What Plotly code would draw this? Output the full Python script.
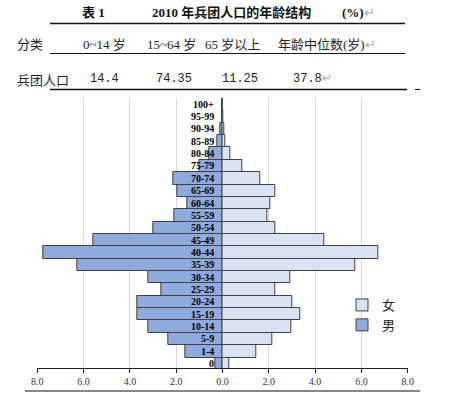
import plotly.graph_objects as go

W, H = 449, 398

ages = ["0", "1-4", "5-9", "10-14", "15-19", "20-24", "25-29", "30-34", "35-39",
        "40-44", "45-49", "50-54", "55-59", "60-64", "65-69", "70-74", "75-79",
        "80-84", "85-89", "90-94", "95-99", "100+"]
male = [0.32, 1.60, 2.35, 3.20, 3.70, 3.66, 2.63, 3.20, 6.26, 7.76, 5.60, 2.98,
        2.09, 1.54, 1.94, 2.12, 0.99, 0.56, 0.23, 0.09, 0.02, 0.01]
female = [0.30, 1.47, 2.17, 2.97, 3.37, 3.00, 2.28, 2.94, 5.72, 6.75, 4.41, 2.29,
          1.94, 2.06, 2.28, 1.63, 0.86, 0.35, 0.14, 0.07, 0.02, 0.01]
tick_vals = [-8, -6, -4, -2, 0, 2, 4, 6, 8]
tick_text = ["8.0", "6.0", "4.0", "2.0", "0.0", "2.0", "4.0", "6.0", "8.0"]

table_title = ["表 1", "2010 年兵团人口的年龄结构", "(%)"]
table_head = ["分类", "0~14 岁", "15~64 岁", "65 岁以上", "年龄中位数(岁)"]
table_vals = ["兵团人口", "14.4", "74.35", "11.25", "37.8"]

def px(x):
    return x / W

def py(y):
    return 1 - y / H

fig = go.Figure()
fig.add_trace(go.Bar(
    y=ages, x=female, orientation="h", name="女",
    marker=dict(color="#dae3f3", line=dict(color="#404040", width=1)),
))
fig.add_trace(go.Bar(
    y=ages, x=[-v for v in male], orientation="h", name="男",
    marker=dict(color="#8faadc", line=dict(color="#404040", width=1)),
))

ann = []
for a in ages:
    ann.append(dict(x=0, y=a, xref="x", yref="y", text="<b>%s</b>" % a,
                    showarrow=False, xanchor="right", yanchor="middle", xshift=-7,
                    font=dict(family="Liberation Serif", size=10, color="#000")))

serif_cjk = "Liberation Serif, Noto Sans CJK SC"
gray_mark = "<span style='color:#aaaaaa'>↵</span>"

# title row
title_x = [80, 150, 340]
for t, x in zip(table_title, title_x):
    suffix = gray_mark if t == "(%)" else ""
    ann.append(dict(x=px(x), y=py(12), xref="paper", yref="paper", text="<b>%s</b>%s" % (t, suffix),
                    showarrow=False, xanchor="left", yanchor="middle",
                    font=dict(family=serif_cjk, size=13, color="#111")))
# header row
head_x = [15, 81, 145, 203, 276]
for i, (t, x) in enumerate(zip(table_head, head_x)):
    suffix = gray_mark if i == len(table_head) - 1 else ""
    ann.append(dict(x=px(x), y=py(45), xref="paper", yref="paper", text=t + suffix,
                    showarrow=False, xanchor="left", yanchor="middle",
                    font=dict(family=serif_cjk, size=13, color="#222")))
# value row
val_x = [15, 88, 154, 220, 291]
for i, (t, x) in enumerate(zip(table_vals, val_x)):
    suffix = gray_mark if i == len(table_vals) - 1 else ""
    fam = "Noto Sans CJK SC" if i == 0 else "Liberation Mono, Noto Sans CJK SC"
    ann.append(dict(x=px(x), y=py(79), xref="paper", yref="paper", text=t + suffix,
                    showarrow=False, xanchor="left", yanchor="middle",
                    font=dict(family=fam, size=13 if i == 0 else 12, color="#222")))

shapes = [
    dict(type="line", xref="paper", yref="paper", x0=px(50), x1=px(405), y0=py(23.5), y1=py(23.5),
         line=dict(color="#111", width=1.6)),
    dict(type="line", xref="paper", yref="paper", x0=px(50), x1=px(405), y0=py(53.5), y1=py(53.5),
         line=dict(color="#111", width=1)),
    dict(type="line", xref="paper", yref="paper", x0=px(50), x1=px(407), y0=py(89.5), y1=py(89.5),
         line=dict(color="#111", width=1.6)),
    dict(type="line", xref="paper", yref="paper", x0=px(415), x1=px(420), y0=py(89.5), y1=py(89.5),
         line=dict(color="#111", width=1)),
    dict(type="line", xref="paper", yref="paper", x0=px(25), x1=px(420), y0=py(391), y1=py(391),
         line=dict(color="#111", width=1.2)),
]

fig.update_layout(
    width=W, height=H,
    margin=dict(l=0, r=0, t=0, b=0, autoexpand=False),
    paper_bgcolor="white", plot_bgcolor="white",
    barmode="overlay", bargap=0,
    showlegend=True,
    legend=dict(x=px(342), y=py(290), xanchor="left", yanchor="top",
                bgcolor="rgba(0,0,0,0)", traceorder="normal", tracegroupgap=0,
                itemwidth=30,
                font=dict(family=serif_cjk, size=13, color="#222")),
    xaxis=dict(domain=[px(37.3), px(407.7)], range=[-8, 8],
               tickvals=tick_vals, ticktext=tick_text,
               showgrid=True, gridcolor="#d9d9d9", gridwidth=1,
               zeroline=True, zerolinecolor="#a0a0a0", zerolinewidth=1,
               showline=True, linecolor="#222", linewidth=1,
               ticks="outside", ticklen=4, tickcolor="#222",
               tickfont=dict(family="Liberation Serif", size=10, color="#333"),
               anchor="y", fixedrange=True, automargin=False),
    yaxis=dict(domain=[py(368), py(98)], type="category",
               categoryorder="array", categoryarray=ages,
               range=[-0.35, 21.5], showticklabels=False, showgrid=False,
               zeroline=False, showline=False, ticks="", fixedrange=True,
               automargin=False),
    annotations=ann,
    shapes=shapes,
)

fig.write_html("out.html", config={"displayModeBar": False},
               post_script="document.body.style.margin='0';")
